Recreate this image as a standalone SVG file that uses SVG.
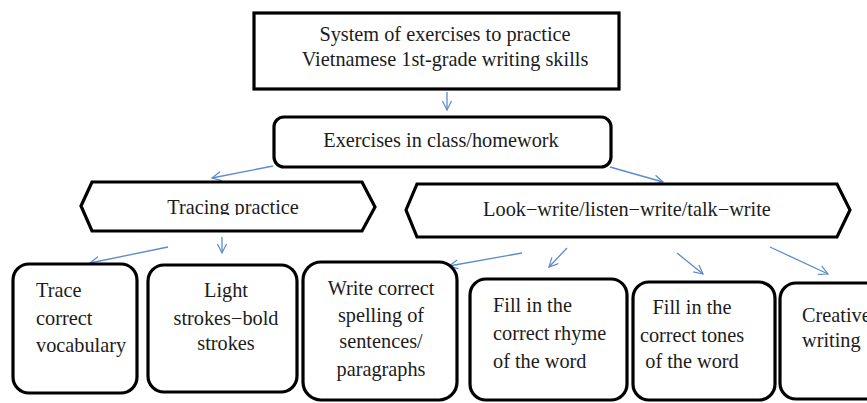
<svg xmlns="http://www.w3.org/2000/svg" width="867" height="403" viewBox="0 0 867 403">
<defs>
<marker id="ah" markerUnits="userSpaceOnUse" markerWidth="14" markerHeight="14" refX="10" refY="5" orient="auto">
<path d="M1,0.5 L10,5 L1,9.5" fill="none" stroke="#5a8ad0" stroke-width="1.2"/>
</marker>
<clipPath id="clipTr"><rect x="80" y="180" width="300" height="35"/></clipPath>
</defs>
<style>
.box{fill:#fff;stroke:#000;stroke-width:3.2}
.t{font-family:'Liberation Serif',serif;font-size:20.3px;fill:#1c1c1c}
.c{text-anchor:middle}
.conn{stroke:#5a8ad0;stroke-width:1.3;fill:none;marker-end:url(#ah)}
</style>
<rect width="867" height="403" fill="#fff"/>
<g id="connectors">
<line class="conn" x1="447" y1="92" x2="447" y2="110"/>
<line class="conn" x1="273" y1="166" x2="212" y2="178"/>
<line class="conn" x1="610" y1="167" x2="663" y2="182"/>
<line class="conn" x1="168" y1="247" x2="90" y2="263"/>
<line class="conn" x1="222" y1="237" x2="222" y2="253"/>
<line class="conn" x1="522" y1="253" x2="449" y2="266"/>
<line class="conn" x1="567" y1="248" x2="549" y2="267"/>
<line class="conn" x1="677" y1="253" x2="703" y2="274"/>
<line class="conn" x1="770" y1="247" x2="828" y2="274"/>
</g>
<g id="n-system">
<rect class="box" x="254" y="13" width="365" height="76"/>
<text class="t c" x="445" y="41">System of exercises to practice</text>
<text class="t c" x="445" y="66">Vietnamese 1st-grade writing skills</text>
</g>
<g id="n-exercises">
<rect class="box" x="274" y="117" width="337" height="50" rx="10"/>
<text class="t c" x="441" y="147">Exercises in class/homework</text>
</g>
<g id="n-tracing">
<polygon class="box" points="81,206 92,182 362,182 375,207 362,231 92,231"/>
<text class="t c" x="233" y="214" clip-path="url(#clipTr)">Tracing practice</text>
</g>
<g id="n-look">
<polygon class="box" points="406,210 417,184 837,184 850,210 837,237 417,237"/>
<text class="t c" x="627" y="216">Look−write/listen−write/talk−write</text>
</g>
<g id="n-trace">
<rect class="box" x="13" y="264" width="124" height="129" rx="16"/>
<text class="t" x="36" y="297">Trace</text>
<text class="t" x="36" y="325">correct</text>
<text class="t" x="36" y="352">vocabulary</text>
</g>
<g id="n-light">
<rect class="box" x="148" y="265" width="149" height="127" rx="16"/>
<text class="t c" x="226" y="297">Light</text>
<text class="t c" x="226" y="325">strokes−bold</text>
<text class="t c" x="226" y="350">strokes</text>
</g>
<g id="n-write">
<rect class="box" x="303" y="262" width="154" height="138" rx="18"/>
<text class="t c" x="381" y="295">Write correct</text>
<text class="t c" x="381" y="322">spelling of</text>
<text class="t c" x="381" y="348">sentences/</text>
<text class="t c" x="381" y="376">paragraphs</text>
</g>
<g id="n-rhyme">
<rect class="box" x="470" y="279" width="157" height="121" rx="16"/>
<text class="t" x="493" y="312">Fill in the</text>
<text class="t" x="493" y="340">correct rhyme</text>
<text class="t" x="493" y="368">of the word</text>
</g>
<g id="n-tones">
<rect class="box" x="633" y="282" width="142" height="118" rx="16"/>
<text class="t c" x="692" y="314">Fill in the</text>
<text class="t c" x="692" y="342">correct tones</text>
<text class="t c" x="692" y="368">of the word</text>
</g>
<g id="n-creative">
<rect class="box" x="780" y="283" width="110" height="116" rx="16"/>
<text class="t" x="802" y="322">Creative</text>
<text class="t" x="802" y="347">writing</text>
</g>
</svg>
